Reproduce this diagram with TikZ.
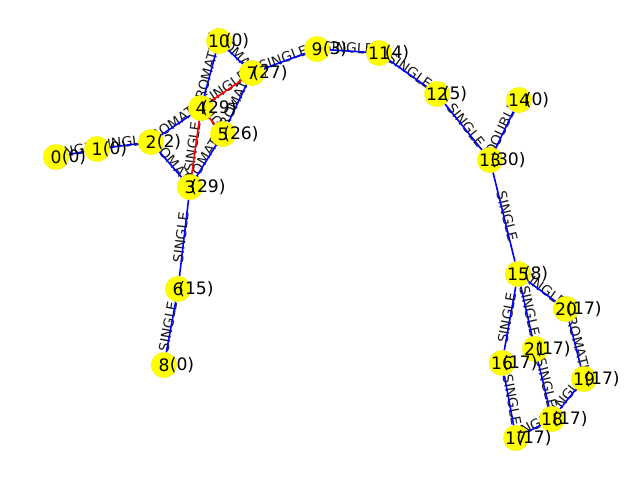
\documentclass[tikz,border=0pt]{standalone}
\usepackage{fontspec}
\setmainfont{DejaVu Sans}
\pgfdeclarelayer{lablayer}
\pgfdeclarelayer{edgelayer}
\pgfsetlayers{lablayer,edgelayer,main}
\definecolor{nodey}{RGB}{255,255,0}
\definecolor{edgeb}{RGB}{0,0,255}
\definecolor{edger}{RGB}{255,0,0}
\tikzset{
  atomnode/.style={circle,fill=nodey,draw=nodey!90!black,line width=0.2pt,minimum size=25.5pt,inner sep=0pt,font=\fontsize{17.2}{18}\selectfont},
  rankabel/.style={inner sep=0pt,font=\fontsize{17.2}{18}\selectfont},
  edgeabel/.style={sloped,above=-2.3pt,inner sep=0pt,font=\fontsize{13.9}{15}\selectfont,text=black!90},
  blueedge/.style={draw=edgeb,line width=1.6pt},
  rededge/.style={draw=edger,line width=1.6pt}
}
\begin{document}
\begin{tikzpicture}[x=1pt,y=-1pt]
\useasboundingbox (0,0) rectangle (640,480);
\foreach \n/\x/\y in {0/56/157,1/97/149,2/151/142,3/190/187,4/201/108,5/223/134,6/178/289,7/252/73,8/164/365,9/317/49,10/219/41,11/379/53,12/437/94,13/490/160,14/519/100,15/518/274,16/502/363,17/516/438,18/552/419,19/584/379,20/566/309,21/535/349}
  \node[atomnode] (n\n) at (\x,\y) {\n};
\begin{pgfonlayer}{lablayer}
\foreach \a/\b/\t in {0/1/SINGLE,1/2/SINGLE,2/3/AROMATIC,2/4/AROMATIC,3/4/SINGLE,3/5/AROMATIC,4/5/SINGLE,4/7/SINGLE,4/10/AROMATIC,5/7/AROMATIC,7/10/AROMATIC,7/9/SINGLE,9/11/SINGLE,11/12/SINGLE,12/13/SINGLE,13/14/DOUBLE,13/15/SINGLE,3/6/SINGLE,6/8/SINGLE,15/16/SINGLE,15/20/SINGLE,15/21/SINGLE,16/17/SINGLE,17/18/SINGLE,18/19/SINGLE,18/21/SINGLE,19/20/AROMATIC}
  \path (n\a.center) -- node[edgeabel]{\t} (n\b.center);
\end{pgfonlayer}
\begin{pgfonlayer}{edgelayer}
\foreach \a/\b in {0/1,1/2,2/3,2/4,3/5,4/10,5/7,7/10,7/9,9/11,11/12,12/13,13/14,13/15,3/6,6/8,15/16,15/20,15/21,16/17,17/18,18/19,18/21,19/20}
  \draw[blueedge] (n\a) -- (n\b);
\foreach \a/\b in {3/4,4/5,4/7}
  \draw[rededge] (n\a) -- (n\b);
\end{pgfonlayer}
\foreach \n/\r in {0/0,1/0,2/2,3/29,4/29,5/26,6/15,7/27,8/0,9/3,10/0,11/4,12/5,13/30,14/0,15/8,16/17,17/17,18/17,19/17,20/17,21/17}
  \node[rankabel] (r\n) at ([xshift=18pt]n\n.center) {(\r)};
\end{tikzpicture}
\end{document}
